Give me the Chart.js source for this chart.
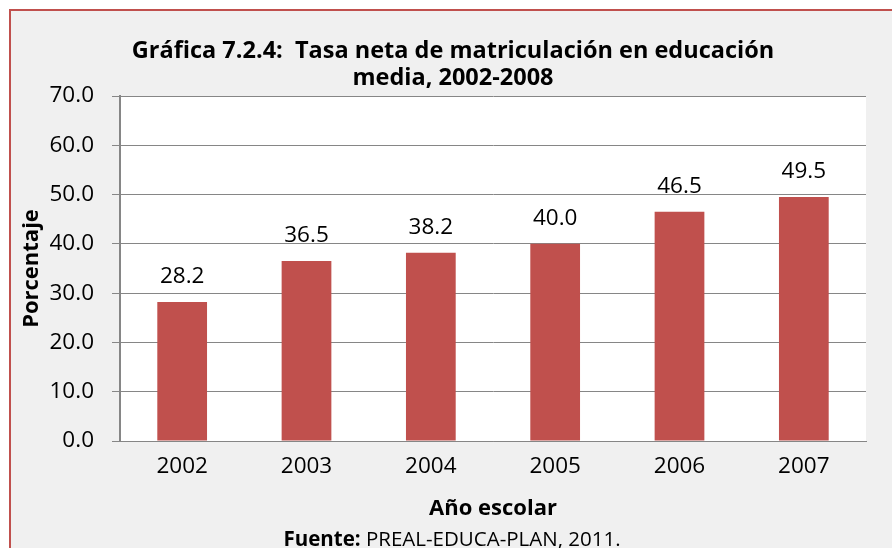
<!DOCTYPE html>
<html>
<head>
<meta charset="utf-8">
<script src="https://cdn.jsdelivr.net/npm/chart.js@4"></script>
<style>
  html, body { margin: 0; padding: 0; background: #ffffff; }
  #wrap { width: 892px; height: 548px; position: relative; }
</style>
</head>
<body>
<div id="wrap"><canvas id="chart" width="892" height="548"></canvas></div>
<script>
const years = ['2002', '2003', '2004', '2005', '2006', '2007'];
const tasaNeta = [28.2, 36.5, 38.2, 40.0, 46.5, 49.5];
const titleLines = ['Gráfica 7.2.4:  Tasa neta de matriculación en educación', 'media, 2002-2008'];
const sourceLabel = 'Fuente:';
const sourceText = ' PREAL-EDUCA-PLAN, 2011.';

const FONT = '"Open Sans", Lato, sans-serif';

// frame, white plot box, title and source note
const framePlugin = {
    id: 'frame',
    beforeDraw(chart) {
        const { ctx, chartArea: a } = chart;
        ctx.save();
        ctx.fillStyle = '#ffffff';
        ctx.fillRect(0, 0, chart.width, chart.height);
        ctx.fillStyle = '#f0f0f0';
        ctx.fillRect(9, 9, chart.width, chart.height);
        ctx.strokeStyle = '#c0504d';
        ctx.lineWidth = 2;
        ctx.beginPath();
        ctx.moveTo(10, chart.height + 5);
        ctx.lineTo(10, 10);
        ctx.lineTo(chart.width + 5, 10);
        ctx.stroke();
        ctx.fillStyle = '#ffffff';
        ctx.fillRect(a.left, a.top, a.right - a.left, a.bottom - a.top);
        ctx.restore();
    },
    afterDraw(chart) {
        const { ctx } = chart;
        ctx.save();
        ctx.fillStyle = '#000000';
        ctx.textAlign = 'center';
        ctx.textBaseline = 'alphabetic';
        ctx.font = 'bold 23.5px ' + FONT;
        ctx.fillText(titleLines[0], 453, 58);
        ctx.fillText(titleLines[1], 453, 85);

        ctx.textAlign = 'left';
        ctx.font = 'bold 20.5px ' + FONT;
        const w1 = ctx.measureText(sourceLabel).width;
        ctx.font = '20.5px ' + FONT;
        const w2 = ctx.measureText(sourceText).width;
        const x0 = 452 - (w1 + w2) / 2;
        ctx.font = 'bold 20.5px ' + FONT;
        ctx.fillText(sourceLabel, x0, 546);
        ctx.font = '20.5px ' + FONT;
        ctx.fillText(sourceText, x0 + w1, 546);
        ctx.restore();
    }
};

// value above each bar
const valueLabels = {
    id: 'valueLabels',
    afterDatasetsDraw(chart) {
        const { ctx } = chart;
        const meta = chart.getDatasetMeta(0);
        ctx.save();
        ctx.fillStyle = '#000000';
        ctx.font = '22.5px ' + FONT;
        ctx.textAlign = 'center';
        ctx.textBaseline = 'alphabetic';
        meta.data.forEach((bar, i) => {
            ctx.fillText(tasaNeta[i].toFixed(1), bar.x, bar.y - 19);
        });
        ctx.restore();
    }
};

new Chart(document.getElementById('chart'), {
    type: 'bar',
    data: {
        labels: years,
        datasets: [{
            data: tasaNeta,
            backgroundColor: '#c0504d',
            borderWidth: 0,
            categoryPercentage: 1,
            barPercentage: 0.4
        }]
    },
    options: {
        responsive: false,
        animation: false,
        layout: { padding: { top: 96, left: 12, right: 26, bottom: 0 } },
        plugins: {
            legend: { display: false },
            tooltip: { enabled: false },
            title: { display: false }
        },
        scales: {
            x: {
                afterFit(scale) { scale.height = 107; },
                grid: { display: false, drawTicks: false },
                border: { display: true, color: '#868686', width: 1 },
                ticks: { color: '#000000', font: { family: FONT, size: 22.5 }, padding: 12 },
                title: {
                    display: true,
                    text: 'Año escolar',
                    color: '#000000',
                    font: { family: FONT, size: 22, weight: 'bold' },
                    padding: { top: 0, bottom: 26 }
                }
            },
            y: {
                min: 0,
                max: 70,
                afterFit(scale) { scale.width = 108; },
                grid: { color: '#868686', lineWidth: 1, tickLength: 8 },
                border: { display: true, color: '#868686', width: 2 },
                ticks: {
                    stepSize: 10,
                    color: '#000000',
                    font: { family: FONT, size: 22.5 },
                    padding: 18,
                    callback: v => v.toFixed(1)
                },
                title: {
                    display: true,
                    text: 'Porcentaje',
                    color: '#000000',
                    font: { family: FONT, size: 22, weight: 'bold' },
                    padding: { top: 7, bottom: 0 }
                }
            }
        }
    },
    plugins: [framePlugin, valueLabels]
});
</script>
</body>
</html>
